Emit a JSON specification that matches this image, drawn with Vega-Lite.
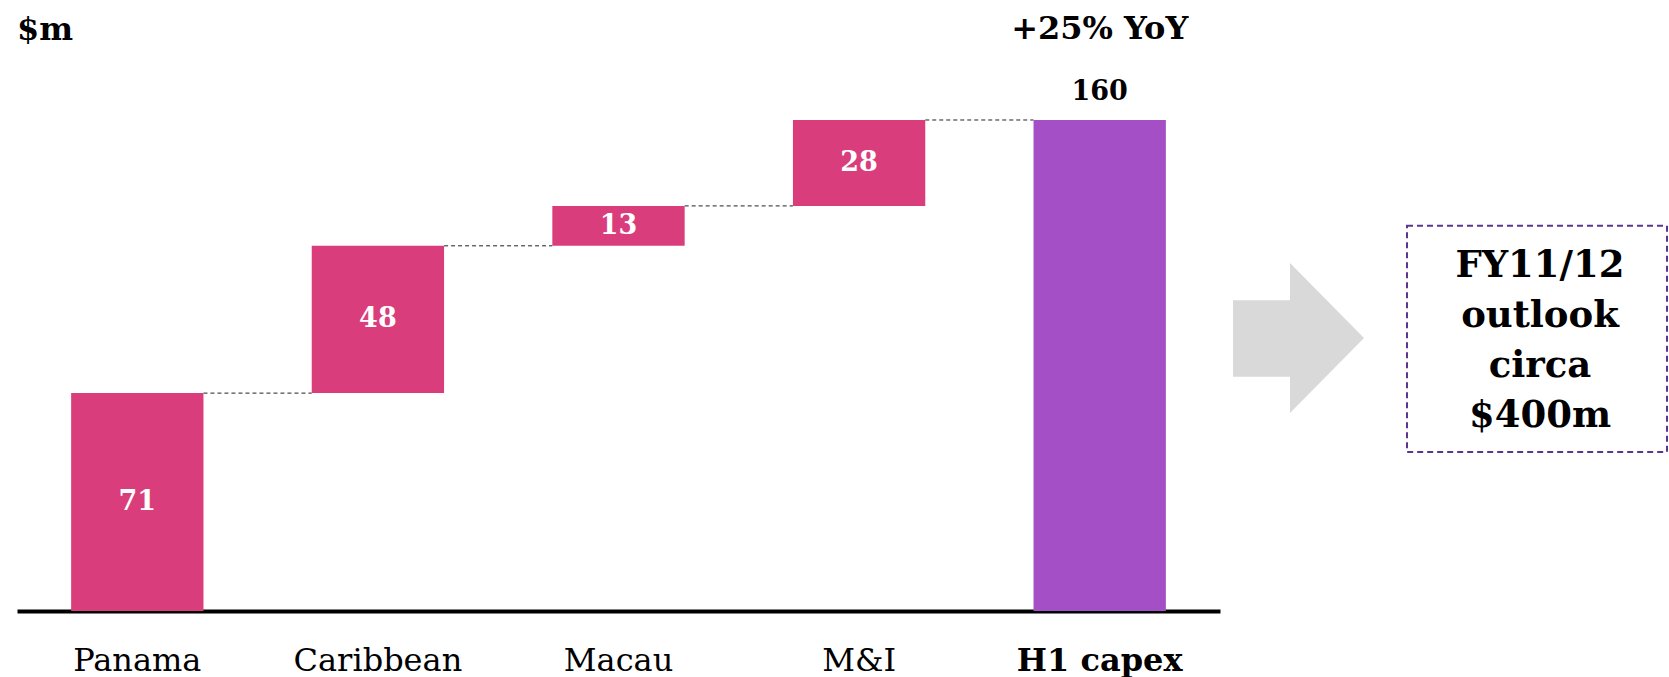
{
  "$schema": "https://vega.github.io/schema/vega-lite/v6.json",
  "autosize": {"type": "none"},
  "padding": {"left": 17, "top": 60, "right": 0, "bottom": 66},
  "width": 1652,
  "height": 551,
  "background": "white",
  "config": {"view": {"stroke": null}, "font": "DejaVu Serif"},
  "datasets": {
    "bars": [
      {"cat": "Panama", "start": 0, "end": 71, "label": "71", "kind": "delta", "note": ""},
      {"cat": "Caribbean", "start": 71, "end": 119, "label": "48", "kind": "delta", "note": ""},
      {"cat": "Macau", "start": 119, "end": 132, "label": "13", "kind": "delta", "note": ""},
      {"cat": "M&I", "start": 132, "end": 160, "label": "28", "kind": "delta", "note": ""},
      {"cat": "H1 capex", "start": 0, "end": 160, "label": "160", "kind": "total", "note": "+25% YoY"}
    ],
    "connectors": [
      {"cat": "Panama", "next": "Caribbean", "level": 71},
      {"cat": "Caribbean", "next": "Macau", "level": 119},
      {"cat": "Macau", "next": "M&I", "level": 132},
      {"cat": "M&I", "next": "H1 capex", "level": 160}
    ],
    "shaft": [
      {"x1": 1216, "x2": 1273, "y1": 76.3, "y2": 101.3}
    ],
    "head": [
      {"i": 0, "hx": 1273, "lo": 64.5, "hi": 113.4},
      {"i": 1, "hx": 1347, "lo": 89, "hi": 89}
    ],
    "box": [
      {"x1": 1390, "x2": 1650, "y1": 51.8, "y2": 125.5, "tx": 1523, "ty": 112.4, "text": "FY11/12\noutlook\ncirca\n$400m"}
    ],
    "heading": [
      {"x": 0, "y": 186.1, "text": "$m"}
    ]
  },
  "resolve": {"scale": {"x": "independent"}, "axis": {"x": "independent"}},
  "layer": [
    {
      "encoding": {
        "x": {"field": "cat", "type": "nominal", "sort": null,
          "scale": {"domain": ["Panama", "Caribbean", "Macau", "M&I", "H1 capex"], "range": [0, 1203], "paddingInner": 0.45, "paddingOuter": 0.225},
          "axis": {"title": null, "ticks": false, "domainColor": "black", "domainWidth": 4, "labelFont": "DejaVu Serif", "labelFontSize": 32, "labelColor": "black", "labelPadding": 59, "labelBaseline": "alphabetic", "labelAngle": 0,
            "labelFontWeight": {"condition": {"test": "datum.value === 'H1 capex'", "value": "bold"}, "value": "normal"}}}
      },
      "layer": [
        {
          "data": {"name": "connectors"},
          "mark": {"type": "rule", "color": "#222222", "strokeWidth": 1, "strokeDash": [4, 3]},
          "encoding": {
            "x": {"field": "cat", "type": "nominal", "bandPosition": 1, "sort": null},
            "x2": {"field": "next", "bandPosition": 0},
            "y": {"field": "level", "type": "quantitative", "scale": {"domain": [0, 179.55], "nice": false}, "axis": null}
          }
        },
        {
          "data": {"name": "bars"},
          "mark": {"type": "bar"},
          "encoding": {
            "y": {"field": "start", "type": "quantitative", "axis": null},
            "y2": {"field": "end"},
            "color": {"field": "kind", "type": "nominal", "scale": {"domain": ["delta", "total"], "range": ["#DA3D7B", "#A44FC5"]}, "legend": null}
          }
        },
        {
          "data": {"name": "bars"},
          "transform": [
            {"filter": "datum.kind === 'delta'"},
            {"calculate": "(datum.start + datum.end) / 2", "as": "mid"}
          ],
          "mark": {"type": "text", "color": "white", "fontSize": 27, "fontWeight": "bold", "font": "DejaVu Serif", "baseline": "middle", "align": "center"},
          "encoding": {
            "y": {"field": "mid", "type": "quantitative", "axis": null},
            "text": {"field": "label"}
          }
        },
        {
          "data": {"name": "bars"},
          "transform": [{"filter": "datum.kind === 'total'"}],
          "mark": {"type": "text", "color": "black", "fontSize": 27, "fontWeight": "bold", "font": "DejaVu Serif", "baseline": "alphabetic", "align": "center", "dy": -20},
          "encoding": {
            "y": {"field": "end", "type": "quantitative", "axis": null},
            "text": {"field": "label"}
          }
        },
        {
          "data": {"name": "bars"},
          "transform": [{"filter": "datum.kind === 'total'"}],
          "mark": {"type": "text", "color": "black", "fontSize": 32, "fontWeight": "bold", "font": "DejaVu Serif", "baseline": "alphabetic", "align": "center", "dy": -81},
          "encoding": {
            "y": {"field": "end", "type": "quantitative", "axis": null},
            "text": {"field": "note"}
          }
        }
      ]
    },
    {
      "layer": [
        {
          "data": {"name": "shaft"},
          "mark": {"type": "rect", "color": "#D9D9D9"},
          "encoding": {
            "x": {"field": "x1", "type": "quantitative", "scale": {"domain": [0, 1652], "nice": false, "zero": false}, "axis": null},
            "x2": {"field": "x2"},
            "y": {"field": "y1", "type": "quantitative", "axis": null},
            "y2": {"field": "y2"}
          }
        },
        {
          "data": {"name": "head"},
          "mark": {"type": "area", "color": "#D9D9D9", "opacity": 1, "interpolate": "linear"},
          "encoding": {
            "x": {"field": "hx", "type": "quantitative"},
            "y": {"field": "lo", "type": "quantitative", "axis": null, "stack": null},
            "y2": {"field": "hi"}
          }
        },
        {
          "data": {"name": "box"},
          "mark": {"type": "rect", "fill": "transparent", "stroke": "#5B3590", "strokeWidth": 2, "strokeDash": [6, 4]},
          "encoding": {
            "x": {"field": "x1", "type": "quantitative"},
            "x2": {"field": "x2"},
            "y": {"field": "y1", "type": "quantitative", "axis": null},
            "y2": {"field": "y2"}
          }
        },
        {
          "data": {"name": "box"},
          "mark": {"type": "text", "lineBreak": "\n", "lineHeight": 50, "fontSize": 37, "fontWeight": "bold", "font": "DejaVu Serif", "baseline": "middle", "align": "center", "color": "black"},
          "encoding": {
            "x": {"field": "tx", "type": "quantitative"},
            "y": {"field": "ty", "type": "quantitative", "axis": null},
            "text": {"field": "text"}
          }
        },
        {
          "data": {"name": "heading"},
          "mark": {"type": "text", "fontSize": 32, "fontWeight": "bold", "font": "DejaVu Serif", "baseline": "alphabetic", "align": "left", "color": "black"},
          "encoding": {
            "x": {"field": "x", "type": "quantitative"},
            "y": {"field": "y", "type": "quantitative", "axis": null},
            "text": {"field": "text"}
          }
        }
      ]
    }
  ]
}
